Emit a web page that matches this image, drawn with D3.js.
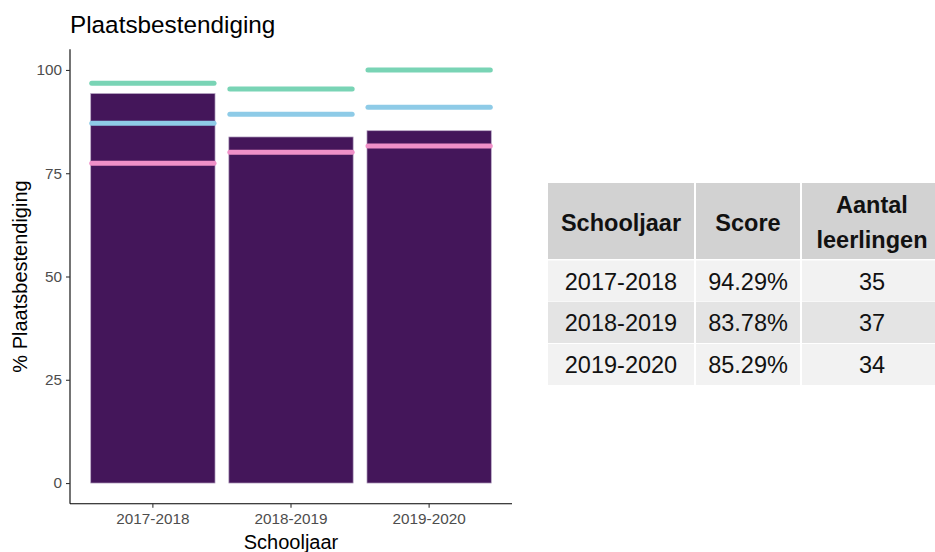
<!DOCTYPE html>
<html>
<head>
<meta charset="utf-8">
<script src="https://cdn.jsdelivr.net/npm/d3@7"></script>
<style>
  body { margin: 0; background: #fff; }
  svg { display: block; font-family: "Liberation Sans", Arial, sans-serif; }
</style>
</head>
<body>
<div id="chart"></div>
<script>
// data
var years = ["2017-2018", "2018-2019", "2019-2020"];
var scores = [94.29, 83.78, 85.29];
var counts = [35, 37, 34];
var refGreen = [96.8, 95.4, 100];
var refBlue = [87.1, 89.3, 91.0];
var refPink = [77.4, 80.1, 81.6];
var yTicks = [0, 25, 50, 75, 100];

var width = 935, height = 552;
var plot = {left: 70, right: 512, top: 49.3, bottom: 503.7};

var svg = d3.select("#chart").append("svg")
    .attr("width", width)
    .attr("height", height);

var x = d3.scaleBand()
    .domain(years)
    .range([plot.left, plot.right])
    .paddingInner(0.1)
    .paddingOuter(0.15);

var y = d3.scaleLinear()
    .domain([-5, 105])
    .range([plot.bottom, plot.top]);

// bars
svg.selectAll("rect.bar")
    .data(years)
    .enter().append("rect")
    .attr("class", "bar")
    .attr("x", function (d) { return x(d); })
    .attr("width", x.bandwidth())
    .attr("y", function (d, i) { return y(scores[i]); })
    .attr("height", function (d, i) { return y(0) - y(scores[i]); })
    .attr("fill", "#44165a")
    .attr("stroke", "#b8a6c4")
    .attr("stroke-width", 0.7);

// reference lines
var refs = [
    {vals: refPink, color: "#f090c8"},
    {vals: refBlue, color: "#8ecbe7"},
    {vals: refGreen, color: "#79d4b5"}
];
refs.forEach(function (r) {
    svg.selectAll(null)
        .data(years)
        .enter().append("line")
        .attr("x1", function (d) { return x(d) + 1; })
        .attr("x2", function (d) { return x(d) + x.bandwidth() - 1; })
        .attr("y1", function (d, i) { return y(r.vals[i]); })
        .attr("y2", function (d, i) { return y(r.vals[i]); })
        .attr("stroke", r.color)
        .attr("stroke-width", 5)
        .attr("stroke-linecap", "round");
});

// axes
var gx = svg.append("g")
    .attr("transform", "translate(0," + plot.bottom + ")")
    .call(d3.axisBottom(x).tickSize(4).tickSizeOuter(0).tickPadding(5));
var gy = svg.append("g")
    .attr("transform", "translate(" + plot.left + ",0)")
    .call(d3.axisLeft(y).tickValues(yTicks).tickSize(4).tickSizeOuter(0).tickPadding(4));

[gx, gy].forEach(function (g) {
    g.select(".domain").attr("stroke", "#000").attr("stroke-width", 1.1);
    g.selectAll(".tick line").attr("stroke", "#333").attr("stroke-width", 1.1);
    g.selectAll(".tick text")
        .attr("fill", "#4d4d4d")
        .style("font-size", "15.3px")
        .style("font-family", "Liberation Sans, Arial, sans-serif");
});
gy.select(".domain").attr("d", "M0," + plot.bottom + "V" + plot.top);
gx.select(".domain").attr("d", "M" + plot.left + ",0H" + plot.right);

// titles
svg.append("text")
    .attr("x", 70)
    .attr("y", 33)
    .style("font-size", "24.3px")
    .attr("fill", "#000")
    .text("Plaatsbestendiging");

svg.append("text")
    .attr("x", (plot.left + plot.right) / 2)
    .attr("y", 549)
    .attr("text-anchor", "middle")
    .style("font-size", "20px")
    .text("Schooljaar");

svg.append("text")
    .attr("transform", "translate(27," + ((plot.top + plot.bottom) / 2) + ") rotate(-90)")
    .attr("text-anchor", "middle")
    .style("font-size", "20px")
    .text("% Plaatsbestendiging");

// table
var colX = [548, 696, 802, 944];
var headerTop = 183, headerBottom = 259;
var rowTops = [260.5, 302, 344];
var rowH = 41;
var tbl = svg.append("g");

for (var c = 0; c < 3; c++) {
    tbl.append("rect")
        .attr("x", colX[c])
        .attr("y", headerTop)
        .attr("width", colX[c + 1] - colX[c] - 2)
        .attr("height", headerBottom - headerTop)
        .attr("fill", "#d2d2d2");
}
var headers = [["Schooljaar"], ["Score"], ["Aantal", "leerlingen"]];
headers.forEach(function (h, c) {
    var cx = (colX[c] + colX[c + 1] - 2) / 2;
    var t = tbl.append("text")
        .attr("text-anchor", "middle")
        .style("font-size", "23.5px")
        .style("font-weight", "bold")
        .attr("fill", "#111");
    if (h.length === 1) {
        t.attr("x", cx).attr("y", 231).text(h[0]);
    } else {
        t.append("tspan").attr("x", cx).attr("y", 213).text(h[0]);
        t.append("tspan").attr("x", cx).attr("y", 248).text(h[1]);
    }
});

years.forEach(function (yr, i) {
    var cells = [yr, scores[i].toFixed(2) + "%", String(counts[i])];
    var fill = i % 2 === 0 ? "#f2f2f2" : "#e4e4e4";
    cells.forEach(function (txt, c) {
        tbl.append("rect")
            .attr("x", colX[c])
            .attr("y", rowTops[i])
            .attr("width", colX[c + 1] - colX[c] - 2)
            .attr("height", rowH)
            .attr("fill", fill);
        tbl.append("text")
            .attr("x", (colX[c] + colX[c + 1] - 2) / 2)
            .attr("y", rowTops[i] + 29)
            .attr("text-anchor", "middle")
            .style("font-size", "23.5px")
            .attr("fill", "#111")
            .text(txt);
    });
});
</script>
</body>
</html>
